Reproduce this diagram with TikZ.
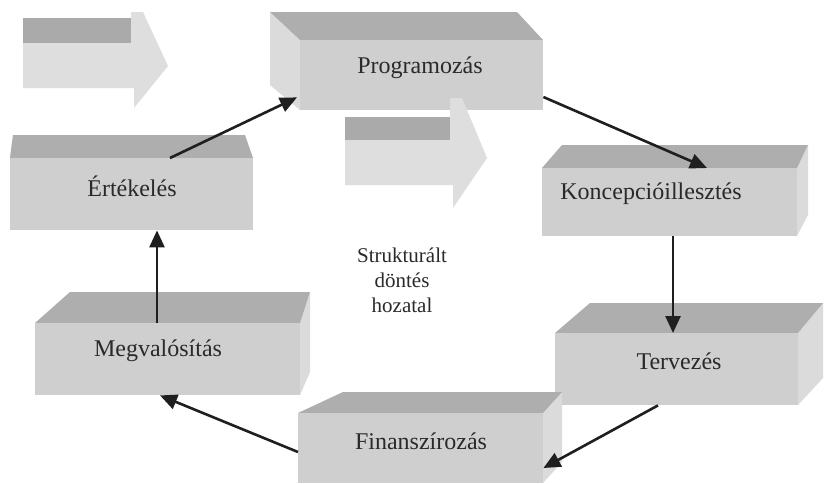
\documentclass[tikz,border=0pt]{standalone}
\usepackage{fontspec}
\setmainfont{Liberation Serif}
\usetikzlibrary{arrows.meta,calc}
\definecolor{frontc}{HTML}{CFCFCF}
\definecolor{topc}{HTML}{AEAEAE}
\definecolor{sidec}{HTML}{DBDBDB}
\definecolor{arrfront}{HTML}{DEDEDE}
\definecolor{arrtop}{HTML}{AAAAAA}
\definecolor{txt}{HTML}{2A2A2A}
\begin{document}
\begin{tikzpicture}[x=1pt,y=-1pt,
  front/.style={fill=frontc, draw=none, inner sep=0pt, anchor=north west},
  topf/.style={fill=topc},
  sidef/.style={fill=sidec},
  afront/.style={fill=arrfront},
  atop/.style={fill=arrtop},
  lbl/.style={font=\fontsize{24}{28}\selectfont, text=txt},
  conn/.style={line width=2.6pt, draw=black!88, -{Triangle[length=17pt,width=15pt]}}]
\useasboundingbox (0,0) rectangle (826,483);
\fill[white] (0,0) rectangle (826,483);

% block arrow top-left
\fill[atop] (23,18) rectangle (131,43);
\fill[afront] (23,43) -- (131,43) -- (131,12) -- (143,12) -- (168,66) -- (134,108) -- (134,88) -- (23,88) -- cycle;

% Programozas
\fill[sidef] (270,12) -- (300,40) -- (300,110) -- (270,85) -- cycle;
\fill[topf] (270,12) -- (517,12) -- (543,40) -- (300,40) -- cycle;
\node[front, minimum width=243pt, minimum height=70pt] (prog) at (300,40) {};
\node[lbl] (progt) at (420,68) {Programozás};

% block arrow centre
\fill[atop] (345,117) rectangle (450,140);
\fill[afront] (345,140) -- (450,140) -- (450,98) -- (462,98) -- (487,158) -- (453,208) -- (453,185) -- (345,185) -- cycle;

% Ertekeles
\fill[sidef] (13,135) -- (10,158) -- (10,230) -- (13,210) -- cycle;
\fill[topf] (13,135) -- (245,135) -- (253,158) -- (10,158) -- cycle;
\node[front, minimum width=243pt, minimum height=72pt] (ert) at (10,158) {};
\node[lbl] (ertt) at (132,186) {Értékelés};

% Koncepcioillesztes
\fill[sidef] (797,168) -- (808,145) -- (808,215) -- (797,236) -- cycle;
\fill[topf] (562,145) -- (808,145) -- (797,168) -- (542,168) -- cycle;
\node[front, minimum width=255pt, minimum height=68pt] (konc) at (542,168) {};
\node[lbl] (konct) at (651,194) {Koncepcióillesztés};

% Tervezes
\fill[sidef] (798,333) -- (823,303) -- (823,378) -- (798,405) -- cycle;
\fill[topf] (590,303) -- (823,303) -- (798,333) -- (555,333) -- cycle;
\node[front, minimum width=243pt, minimum height=72pt] (terv) at (555,333) {};
\node[lbl] (tervt) at (679,361) {Tervezés};

% Finanszirozas
\fill[sidef] (543,413) -- (562,392) -- (562,462) -- (543,483) -- cycle;
\fill[topf] (343,392) -- (562,392) -- (543,413) -- (298,413) -- cycle;
\node[front, minimum width=245pt, minimum height=70pt] (fin) at (298,413) {};
\node[lbl] (fint) at (421,441) {Finanszírozás};

% Megvalositas
\fill[sidef] (300,323) -- (310,292) -- (310,372) -- (300,395) -- cycle;
\fill[topf] (70,292) -- (310,292) -- (300,323) -- (35,323) -- cycle;
\node[front, minimum width=265pt, minimum height=72pt] (megv) at (35,323) {};
\node[lbl] (megvt) at (158,351) {Megvalósítás};

% centre text
\node[font=\fontsize{21}{25}\selectfont, align=center, text=txt] (center) at (402,280) {Strukturált\\döntés\\hozatal};

% connectors
\draw[conn] ([xshift=160pt]ert.north west) -- ([xshift=-3pt,yshift=13pt]prog.south west);
\draw[conn] ([yshift=-57pt]prog.north east) -- ([xshift=165pt]konc.north west);
\draw[conn] ([xshift=131pt]konc.south west) -- ([xshift=118pt]terv.north west);
\draw[conn] ([xshift=103pt]terv.south west) -- ([yshift=-55pt]fin.north east);
\draw[conn] ([yshift=-39pt]fin.north west) -- ([xshift=125pt]megv.south west);
\draw[conn] ([xshift=122pt]megv.north west) -- ([xshift=147pt]ert.south west);
\end{tikzpicture}
\end{document}
